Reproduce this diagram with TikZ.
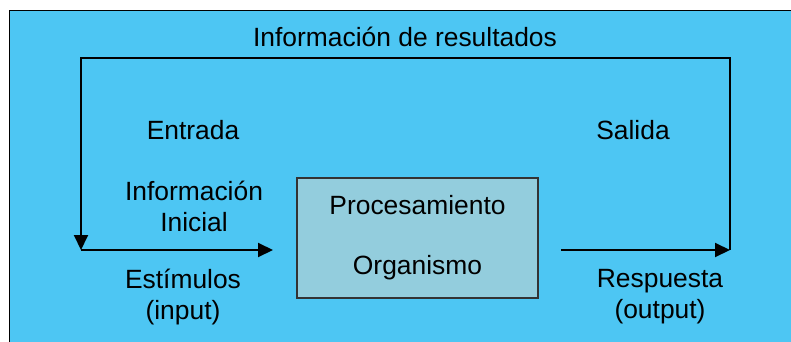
\documentclass[tikz,border=0pt]{standalone}
\usepackage{fontspec}
\setmainfont{Liberation Sans}
\usepackage{tikz}
\usetikzlibrary{arrows.meta,positioning}
\definecolor{skyback}{RGB}{77,198,243}
\definecolor{procfill}{RGB}{147,205,221}

\begin{document}
\begin{tikzpicture}[
    x=1pt, y=-1pt,
    >={Triangle[length=15pt,width=14pt]},
    font=\fontsize{26.4}{31}\selectfont,
    block/.style={
		rectangle,
		draw=black!80,
		line width=1.3pt,
		fill=procfill,
		align=center,
		minimum width=241pt,
		minimum height=120pt,
		inner sep=0pt
	},
	tag/.style={
		align=center,
		inner sep=0pt
	},
	flow/.style={
		draw=black,
		line width=2pt
	}
  ]
    \useasboundingbox (0,0) rectangle (791,342);
    \clip (0,0) rectangle (791,342);
    \draw [fill=skyback, line width=1.3pt] (9.5,10.5) rectangle (810,360);

    % We start by placing the blocks
  \node [block] (proc) at (417.5,238) {Procesamiento\\[29pt]Organismo};

  \coordinate (instart) at (81,250);
  \coordinate (inend) at (273,250);
  \coordinate (outstart) at (561,250);
  \coordinate (outend) at (730,250);
  \coordinate (fbleft) at (81,58);

  \node [tag] (feedback) at (405,37) {Información de resultados};
  \node [tag] (entrada) at (193,130) {Entrada};
  \node [tag] (salida) at (633,130) {Salida};
  \node [tag] (inicial) at (194,206) {Información\\Inicial};
  \node [tag] (estimulos) at (183,297) {Estímulos\\(input)};
  \node [tag] (respuesta) at (660,297) {Respuesta\\(output)};

 \draw [flow,->] (instart) -- (inend);
 \draw [flow,->] (outstart) -- (outend);
 \draw [flow,->] (outend) |- (fbleft) -- (instart);

\end{tikzpicture}
\end{document}
